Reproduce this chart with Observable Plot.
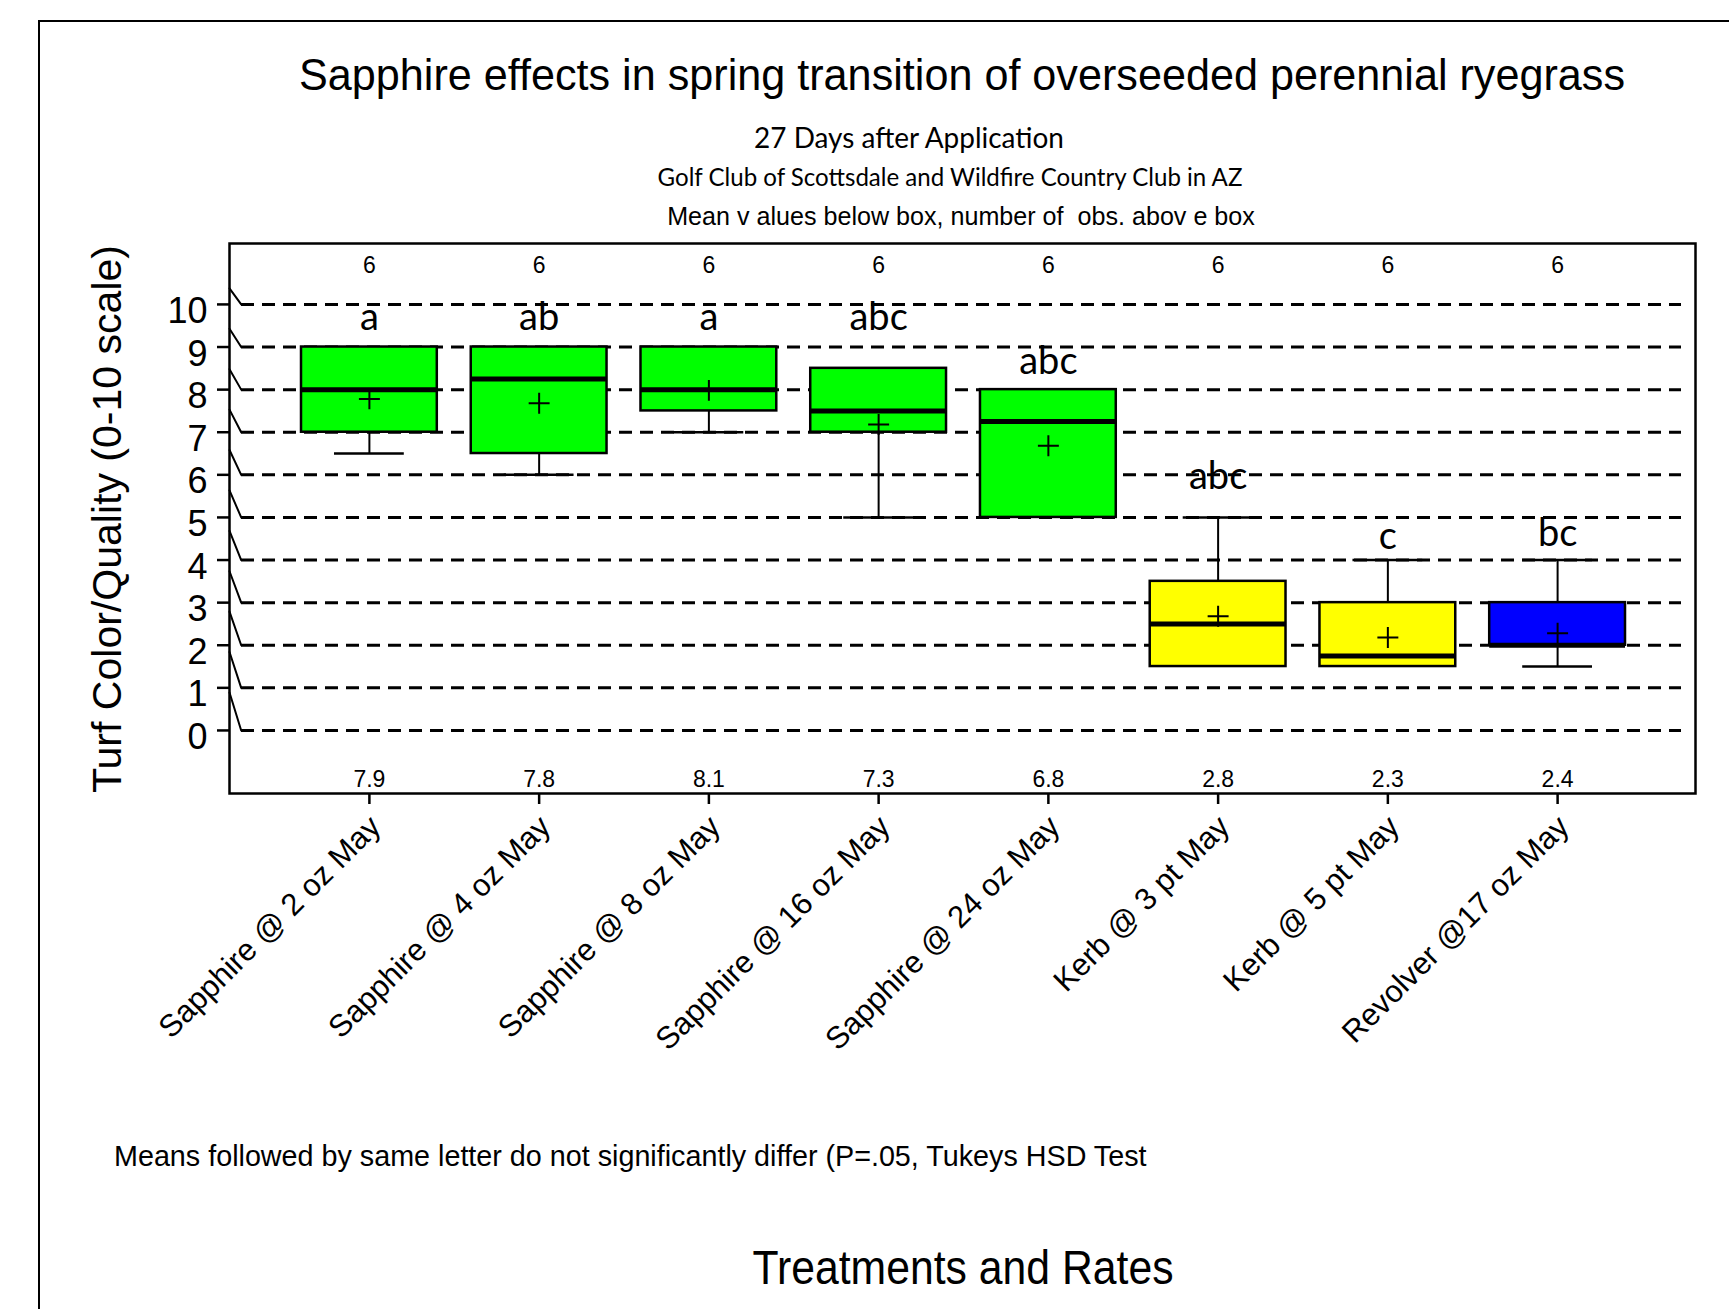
<!DOCTYPE html>
<html>
<head>
<meta charset="utf-8">
<script src="https://cdn.jsdelivr.net/npm/d3@7"></script>
<script src="https://cdn.jsdelivr.net/npm/@observablehq/plot@0.6"></script>
<style>
  body { margin: 0; background: #fff; }
  #page { position: relative; width: 1729px; height: 1309px; overflow: hidden; background: #fff; }
  #page > svg { position: absolute; left: 0; top: 0; }
  .border { position: absolute; left: 38px; top: 20px; width: 1800px; height: 1400px;
            border-left: 2px solid #000; border-top: 2px solid #000; }
</style>
</head>
<body>
<div id="page"><div class="border"></div></div>
<script>
// ---------- data ----------
const treatments = [
  "Sapphire @ 2 oz May", "Sapphire @ 4 oz May", "Sapphire @ 8 oz May",
  "Sapphire @ 16 oz May", "Sapphire @ 24 oz May", "Kerb @ 3 pt May",
  "Kerb @ 5 pt May", "Revolver @17 oz May"
];
const q1          = [7,   6.5,  7.5, 7,   5,    1.5, 1.5,  2];
const q3          = [9,   9,    9,   8.5, 8,    3.5, 3,    3];
const medians     = [8,   8.25, 8,   7.5, 7.25, 2.5, 1.75, 2];
const whiskerLow  = [6.5, 6,    7,   5,   5,    1.5, 1.5,  1.5];
const whiskerHigh = [9,   9,    9,   8.5, 8,    5,   4,    4];
const means       = [7.9, 7.8,  8.1, 7.3, 6.8,  2.8, 2.3,  2.4];
const counts      = [6, 6, 6, 6, 6, 6, 6, 6];
const letters     = ["a", "ab", "a", "abc", "abc", "abc", "c", "bc"];
const letterAt    = [9.39, 9.39, 9.39, 9.39, 8.37, 5.66, 4.25, 4.32];
const boxColors   = ["#00ff00", "#00ff00", "#00ff00", "#00ff00", "#00ff00", "#ffff00", "#ffff00", "#0000ff"];
const yTicks      = [0, 1, 2, 3, 4, 5, 6, 7, 8, 9, 10];

const titleText = "Sapphire effects in spring transition of overseeded perennial ryegrass";
const sub1Text = "27 Days after Application";
const sub2Text = "Golf Club of Scottsdale and Wildfire Country Club in AZ";
const sub3Text = "Mean v alues below box, number of  obs. abov e box";
const footText = "Means followed by same letter do not significantly differ (P=.05, Tukeys HSD Test";
const xTitle = "Treatments and Rates";
const yTitle = "Turf Color/Quality (0-10 scale)";

// ---------- table built from arrays ----------
const rows = treatments.map((t, i) => ({
  t, q1: q1[i], q3: q3[i], median: medians[i], lo: whiskerLow[i], hi: whiskerHigh[i],
  mean: means[i], n: counts[i], letter: letters[i], ly: letterAt[i], color: boxColors[i]
}));
const upper = rows.filter(d => d.hi > d.q3);
const lower = rows.filter(d => d.lo < d.q1);

const ARIAL = "'Liberation Sans', Arial, Helvetica, sans-serif";
const CALIBRI = "Lato, Carlito, Calibri, sans-serif";

// slash decoration along the y axis
const slashDrop = v => 16 + (10 - v) * 2.2;
const slashShape = { draw(context, l) { context.moveTo(0, 0); context.lineTo(0, -l); } };

const chart = Plot.plot({
  width: 1729,
  height: 1100,
  marginTop: 243,
  marginLeft: 229,
  marginRight: 34,
  marginBottom: 307,
  style: { fontFamily: ARIAL, background: "transparent", color: "#000" },
  x: { type: "band", domain: treatments, range: [301, 1625], paddingInner: 0.2, paddingOuter: 0, round: false, axis: null },
  y: { domain: [-1.48, 11.43], axis: null },
  color: { type: "identity" },
  length: { type: "identity" },
  marks: [
    Plot.ruleY(yTicks, { y: d => d, insetLeft: 12, insetRight: 14, stroke: "#000", strokeWidth: 3, strokeDasharray: "13,8" }),
    Plot.vector(yTicks, {
      y: d => d, frameAnchor: "left", anchor: "end", dx: 11.7,
      length: d => Math.hypot(11.7, slashDrop(d)),
      rotate: d => 180 - Math.atan(11.7 / slashDrop(d)) * 180 / Math.PI,
      shape: slashShape, stroke: "#000", strokeWidth: 2
    }),
    Plot.ruleX(upper, { x: "t", y1: "q3", y2: "hi", stroke: "#000", strokeWidth: 2 }),
    Plot.ruleX(lower, { x: "t", y1: "lo", y2: "q1", stroke: "#000", strokeWidth: 2 }),
    Plot.tickY(upper, { x: "t", y: "hi", insetLeft: 33, insetRight: 33, stroke: "#000", strokeWidth: 2.5 }),
    Plot.tickY(lower, { x: "t", y: "lo", insetLeft: 33, insetRight: 33, stroke: "#000", strokeWidth: 2.5 }),
    Plot.barY(rows, { x: "t", y1: "q1", y2: "q3", fill: "color", stroke: "#000", strokeWidth: 2.5 }),
    Plot.tickY(rows, { x: "t", y: "median", stroke: "#000", strokeWidth: 5 }),
    Plot.dot(rows, { x: "t", y: "mean", symbol: "plus", r: 6.8, stroke: "#000", strokeWidth: 2, dy: 5 }),
    Plot.text(rows, { x: "t", text: d => String(d.n), frameAnchor: "top", dy: 22.5, lineAnchor: "middle", fontSize: 23, fill: "#000" }),
    Plot.text(rows, { x: "t", text: d => d.mean.toFixed(1), frameAnchor: "bottom", dy: -6.3, lineAnchor: "bottom", fontSize: 23, fill: "#000" }),
    Plot.text(rows, { x: "t", y: "ly", text: "letter", lineAnchor: "bottom", fontFamily: CALIBRI, fontSize: 38, fill: "#000" }),
    Plot.axisY(yTicks, { tickSize: 12, tickFormat: () => "", strokeWidth: 2.5, label: null }),
    Plot.text(yTicks, { y: d => d, text: d => String(d), frameAnchor: "left", dx: -22, dy: 7, textAnchor: "end", lineAnchor: "middle", fontSize: 36, fill: "#000" }),
    Plot.axisX({ tickSize: 11, tickFormat: () => "", strokeWidth: 2.5, label: null }),
    Plot.text(treatments, { x: d => d, text: d => d, frameAnchor: "bottom", rotate: -45, textAnchor: "end", lineAnchor: "middle", dx: 6, dy: 28, fontSize: 31, fill: "#000" }),
    Plot.frame({ stroke: "#000", strokeWidth: 2.5 })
  ]
});

const page = document.getElementById("page");
page.appendChild(chart);

// ---------- titles, caption and axis titles ----------
const over = d3.select(page).append("svg")
  .attr("width", 1729).attr("height", 1309)
  .style("position", "absolute").style("left", 0).style("top", 0)
  .style("pointer-events", "none");

// size: font size (null = fit to width); width: target rendered width
function addText(str, { x, y, width, size = null, family, anchor = "middle", rotate = 0, baseline = "alphabetic" }) {
  const t = over.append("text")
    .attr("x", x).attr("y", y)
    .attr("text-anchor", anchor)
    .attr("dominant-baseline", baseline)
    .style("white-space", "pre")
    .style("font-family", family)
    .style("font-size", (size || 40) + "px")
    .attr("fill", "#000")
    .text(str);
  if (rotate) t.attr("transform", `rotate(${rotate},${x},${y})`);
  const w = t.node().getComputedTextLength();
  if (size == null) {
    if (w > 0) t.style("font-size", (40 * width / w).toFixed(2) + "px");
  } else {
    t.attr("textLength", width).attr("lengthAdjust", "spacingAndGlyphs");
  }
  return t;
}

addText(titleText, { x: 962, y: 90, width: 1326, size: 44.5, family: ARIAL });
addText(sub1Text, { x: 909, y: 148, width: 310, family: CALIBRI });
addText(sub2Text, { x: 950, y: 186, width: 585, family: CALIBRI });
addText(sub3Text, { x: 961, y: 225, width: 588, family: ARIAL });
addText(footText, { x: 114, y: 1166, width: 1033, family: ARIAL, anchor: "start" });
addText(xTitle, { x: 963, y: 1284, width: 421, size: 48, family: ARIAL });
addText(yTitle, { x: 107, y: 519, width: 548, size: 41, family: ARIAL, rotate: -90, baseline: "central" });
</script>
</body>
</html>
